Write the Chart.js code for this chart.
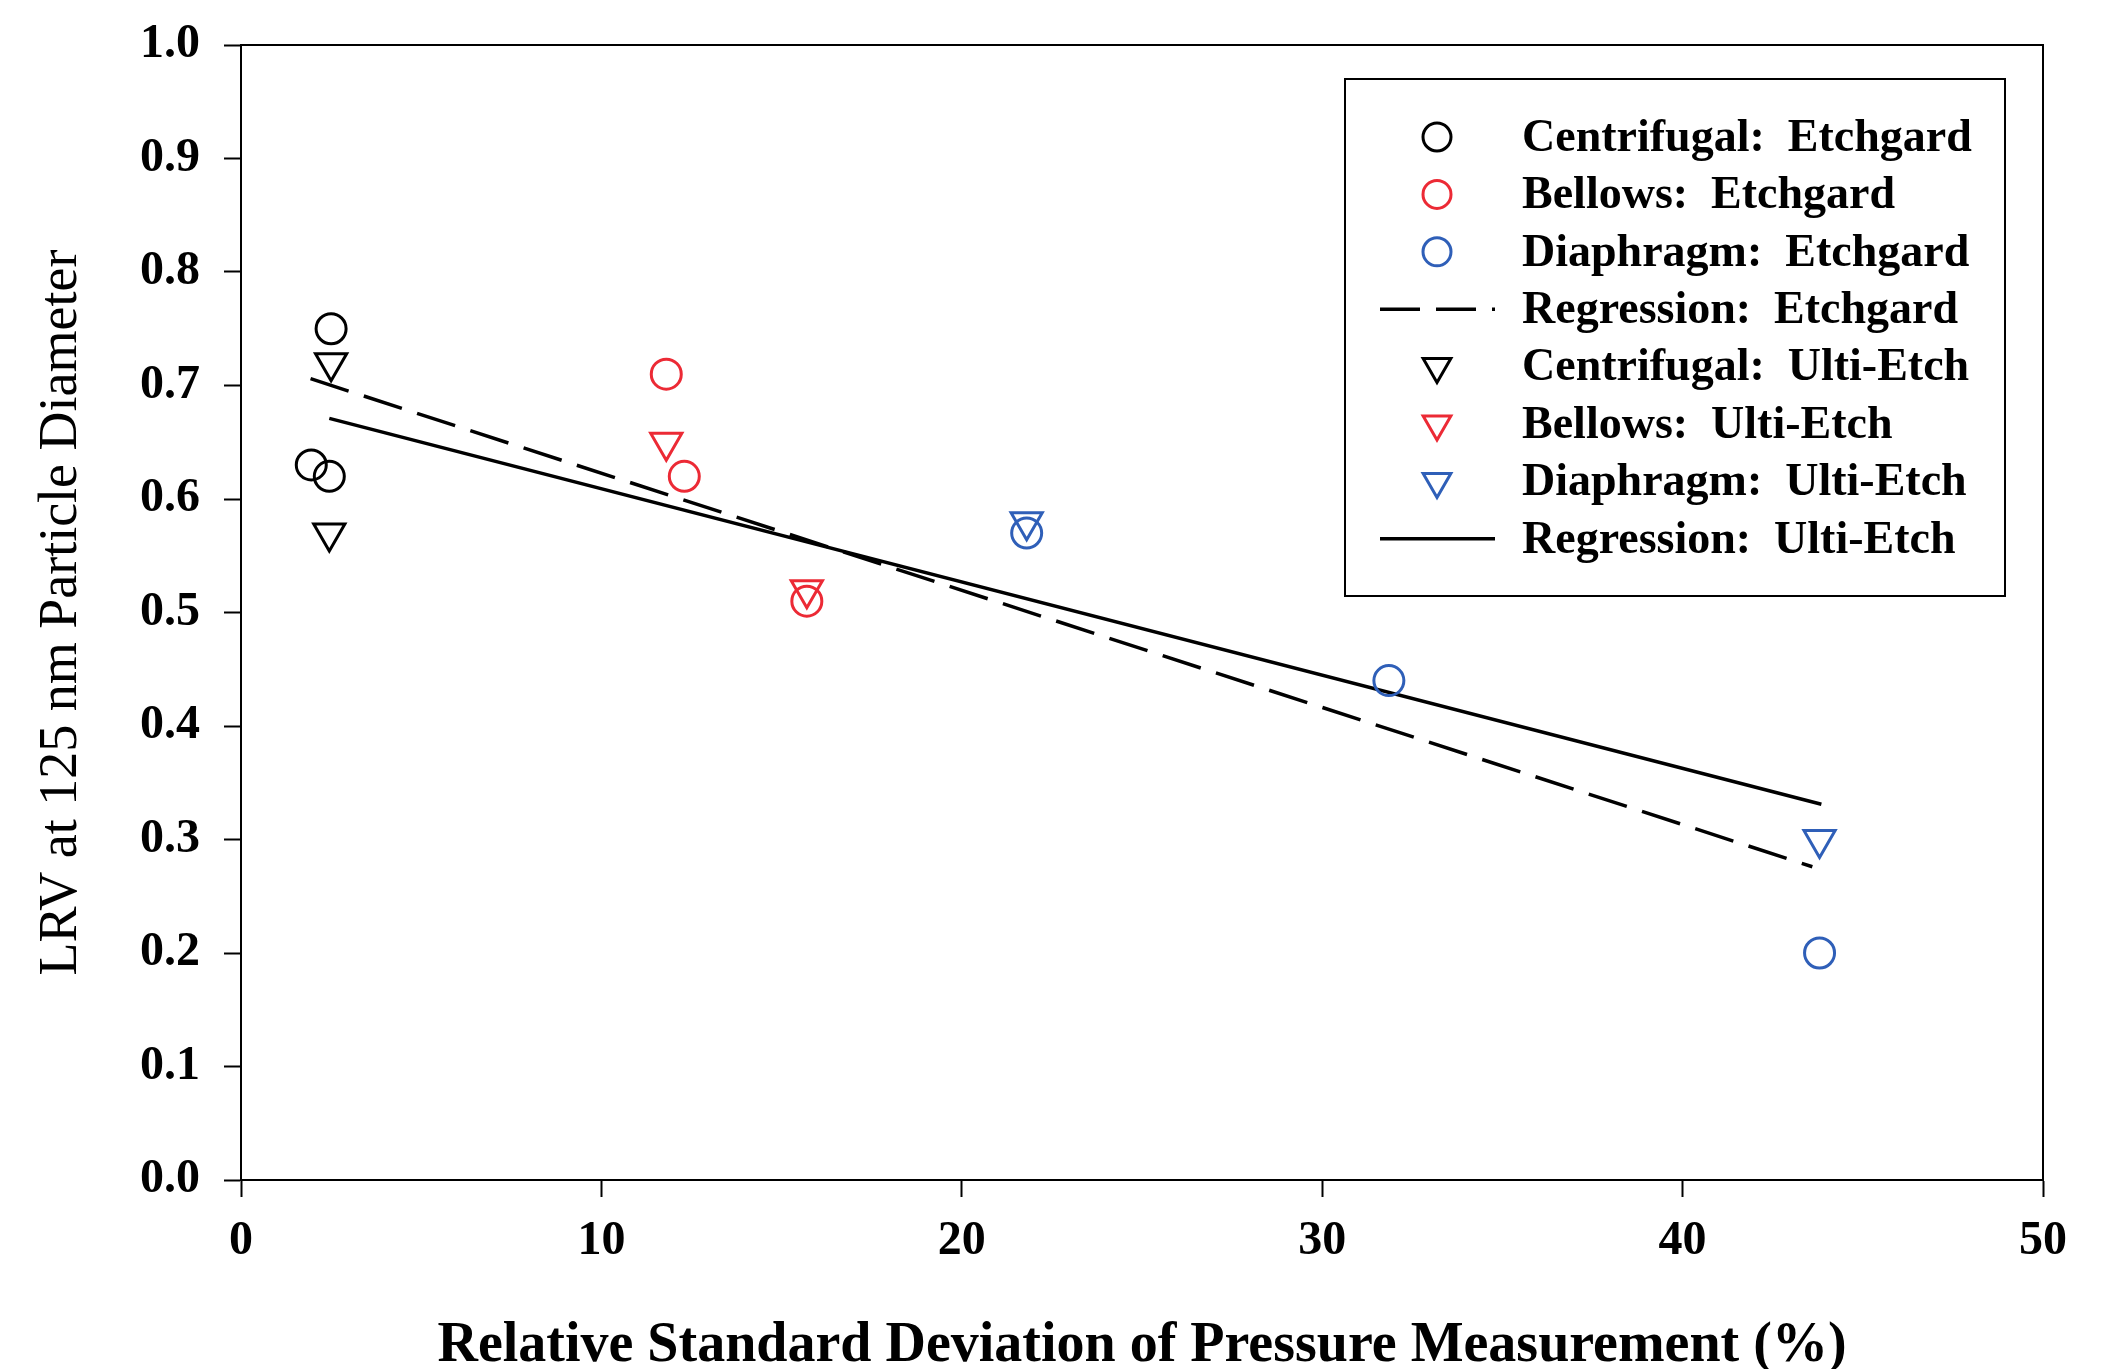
<!DOCTYPE html>
<html>
<head>
<meta charset="utf-8">
<script src="https://cdn.jsdelivr.net/npm/chart.js@4.4.1/dist/chart.umd.min.js"></script>
<style>
  html, body { margin: 0; padding: 0; background: #fff; }
  #wrap { width: 2120px; height: 1369px; }
</style>
</head>
<body>
<div id="wrap"><canvas id="lrvChart"></canvas></div>
<script>
// data
const centEtchX = [2.5, 1.95, 2.45];
const centEtchY = [0.75, 0.63, 0.62];
const bellEtchX = [11.8, 12.3, 15.7];
const bellEtchY = [0.71, 0.62, 0.51];
const diaEtchX = [21.8, 31.85, 43.8];
const diaEtchY = [0.57, 0.44, 0.20];
const regEtchX = [1.93, 43.6];
const regEtchY = [0.706, 0.276];
const centUltiX = [2.5, 2.45];
const centUltiY = [0.72, 0.57];
const bellUltiX = [11.8, 15.7];
const bellUltiY = [0.65, 0.52];
const diaUltiX = [21.8, 43.8];
const diaUltiY = [0.58, 0.30];
const regUltiX = [2.45, 43.85];
const regUltiY = [0.671, 0.331];

const xTickLabels = ['0', '10', '20', '30', '40', '50'];
const yTickLabels = ['0.0', '0.1', '0.2', '0.3', '0.4', '0.5', '0.6', '0.7', '0.8', '0.9', '1.0'];

const BLACK = '#000000';
const RED = '#ec2a35';
const BLUE = '#2f5fb8';
const SERIF = '"Liberation Serif", "Times New Roman", serif';

function pts(xs, ys) {
  return xs.map((x, i) => ({ x: x, y: ys[i] }));
}

function markers(label, xs, ys, color, style) {
  return {
    label: label,
    data: pts(xs, ys),
    pointStyle: style,
    pointRotation: style === 'triangle' ? 180 : 0,
    pointRadius: style === 'triangle' ? 18 : 15,
    pointBorderWidth: 3,
    pointBorderColor: color,
    pointBackgroundColor: 'rgba(0,0,0,0)',
    borderColor: color,
    showLine: false
  };
}

function regression(label, xs, ys, dash) {
  return {
    label: label,
    data: pts(xs, ys),
    showLine: true,
    borderColor: BLACK,
    borderWidth: 3.5,
    borderDash: dash,
    pointRadius: 0,
    fill: false
  };
}

// frame on the top and right of the plot
const framePlugin = {
  id: 'frame',
  afterDraw(chart) {
    const { ctx, chartArea: a } = chart;
    ctx.save();
    ctx.strokeStyle = BLACK;
    ctx.lineWidth = 2;
    ctx.strokeRect(a.left, a.top, a.right - a.left, a.bottom - a.top);
    ctx.restore();
  }
};

// boxed legend inside the plot
const boxLegend = {
  id: 'boxLegend',
  afterDraw(chart) {
    const ctx = chart.ctx;
    const box = { left: 1345, top: 79, right: 2005, bottom: 596 };
    ctx.save();
    ctx.fillStyle = '#fff';
    ctx.fillRect(box.left, box.top, box.right - box.left, box.bottom - box.top);
    ctx.strokeStyle = BLACK;
    ctx.lineWidth = 2;
    ctx.strokeRect(box.left, box.top, box.right - box.left, box.bottom - box.top);

    const rowY0 = 137, rowStep = 57.4, markX = 1437, textX = 1522;
    chart.data.datasets.forEach((ds, i) => {
      const y = rowY0 + i * rowStep;
      if (ds.showLine) {
        ctx.save();
        ctx.strokeStyle = ds.borderColor;
        ctx.lineWidth = ds.borderWidth;
        ctx.setLineDash(ds.borderDash || []);
        ctx.beginPath();
        ctx.moveTo(1380, y);
        ctx.lineTo(1495, y);
        ctx.stroke();
        ctx.restore();
      } else {
        ctx.save();
        ctx.strokeStyle = ds.pointBorderColor;
        ctx.fillStyle = ds.pointBackgroundColor;
        ctx.lineWidth = ds.pointBorderWidth;
        Chart.helpers.drawPoint(ctx, {
          pointStyle: ds.pointStyle,
          rotation: ds.pointRotation,
          radius: ds.pointStyle === 'triangle' ? 16 : 14,
          borderWidth: ds.pointBorderWidth
        }, markX, y);
        ctx.restore();
      }
      ctx.fillStyle = BLACK;
      ctx.font = 'bold 46px ' + SERIF;
      ctx.textAlign = 'left';
      ctx.textBaseline = 'middle';
      ctx.fillText(ds.label, textX, y + 2);
    });
    ctx.restore();
  }
};

new Chart(document.getElementById('lrvChart'), {
  type: 'scatter',
  data: {
    datasets: [
      markers('Centrifugal:  Etchgard', centEtchX, centEtchY, BLACK, 'circle'),
      markers('Bellows:  Etchgard', bellEtchX, bellEtchY, RED, 'circle'),
      markers('Diaphragm:  Etchgard', diaEtchX, diaEtchY, BLUE, 'circle'),
      regression('Regression:  Etchgard', regEtchX, regEtchY, [40, 16]),
      markers('Centrifugal:  Ulti-Etch', centUltiX, centUltiY, BLACK, 'triangle'),
      markers('Bellows:  Ulti-Etch', bellUltiX, bellUltiY, RED, 'triangle'),
      markers('Diaphragm:  Ulti-Etch', diaUltiX, diaUltiY, BLUE, 'triangle'),
      regression('Regression:  Ulti-Etch', regUltiX, regUltiY, [])
    ]
  },
  options: {
    responsive: true,
    maintainAspectRatio: false,
    animation: false,
    devicePixelRatio: 1,
    layout: { padding: { left: 0, top: 45, right: 77, bottom: 0 } },
    plugins: {
      legend: { display: false },
      tooltip: { enabled: false }
    },
    scales: {
      x: {
        type: 'linear',
        min: 0,
        max: 50,
        afterFit(scale) {
          scale.height = 189;
          scale.paddingLeft = 0;
          scale.paddingRight = 0;
        },
        ticks: {
          stepSize: 10,
          color: BLACK,
          padding: 16,
          font: { family: SERIF, size: 48, weight: 'bold' },
          callback: (v, i) => xTickLabels[i]
        },
        grid: { drawOnChartArea: false, drawTicks: true, tickLength: 17, tickColor: BLACK, tickWidth: 2 },
        border: { display: true, color: BLACK, width: 2 },
        title: {
          display: true,
          text: 'Relative Standard Deviation of Pressure Measurement (%)',
          color: BLACK,
          font: { family: SERIF, size: 56, weight: 'bold', lineHeight: 0.6 },
          padding: { top: 0, bottom: 6 }
        }
      },
      y: {
        type: 'linear',
        min: 0,
        max: 1,
        afterFit(scale) {
          scale.width = 241;
          scale.paddingTop = 0;
          scale.paddingBottom = 0;
        },
        ticks: {
          stepSize: 0.1,
          color: BLACK,
          padding: 24,
          font: { family: SERIF, size: 48, weight: 'bold' },
          callback: (v, i) => yTickLabels[i]
        },
        grid: { drawOnChartArea: false, drawTicks: true, tickLength: 17, tickColor: BLACK, tickWidth: 2 },
        border: { display: true, color: BLACK, width: 2 },
        title: {
          display: true,
          text: 'LRV at 125 nm Particle Diameter',
          color: BLACK,
          font: { family: SERIF, size: 54, weight: 'normal', lineHeight: 1.2 },
          padding: { top: 29, bottom: 0 }
        }
      }
    }
  },
  plugins: [framePlugin, boxLegend]
});
</script>
</body>
</html>
